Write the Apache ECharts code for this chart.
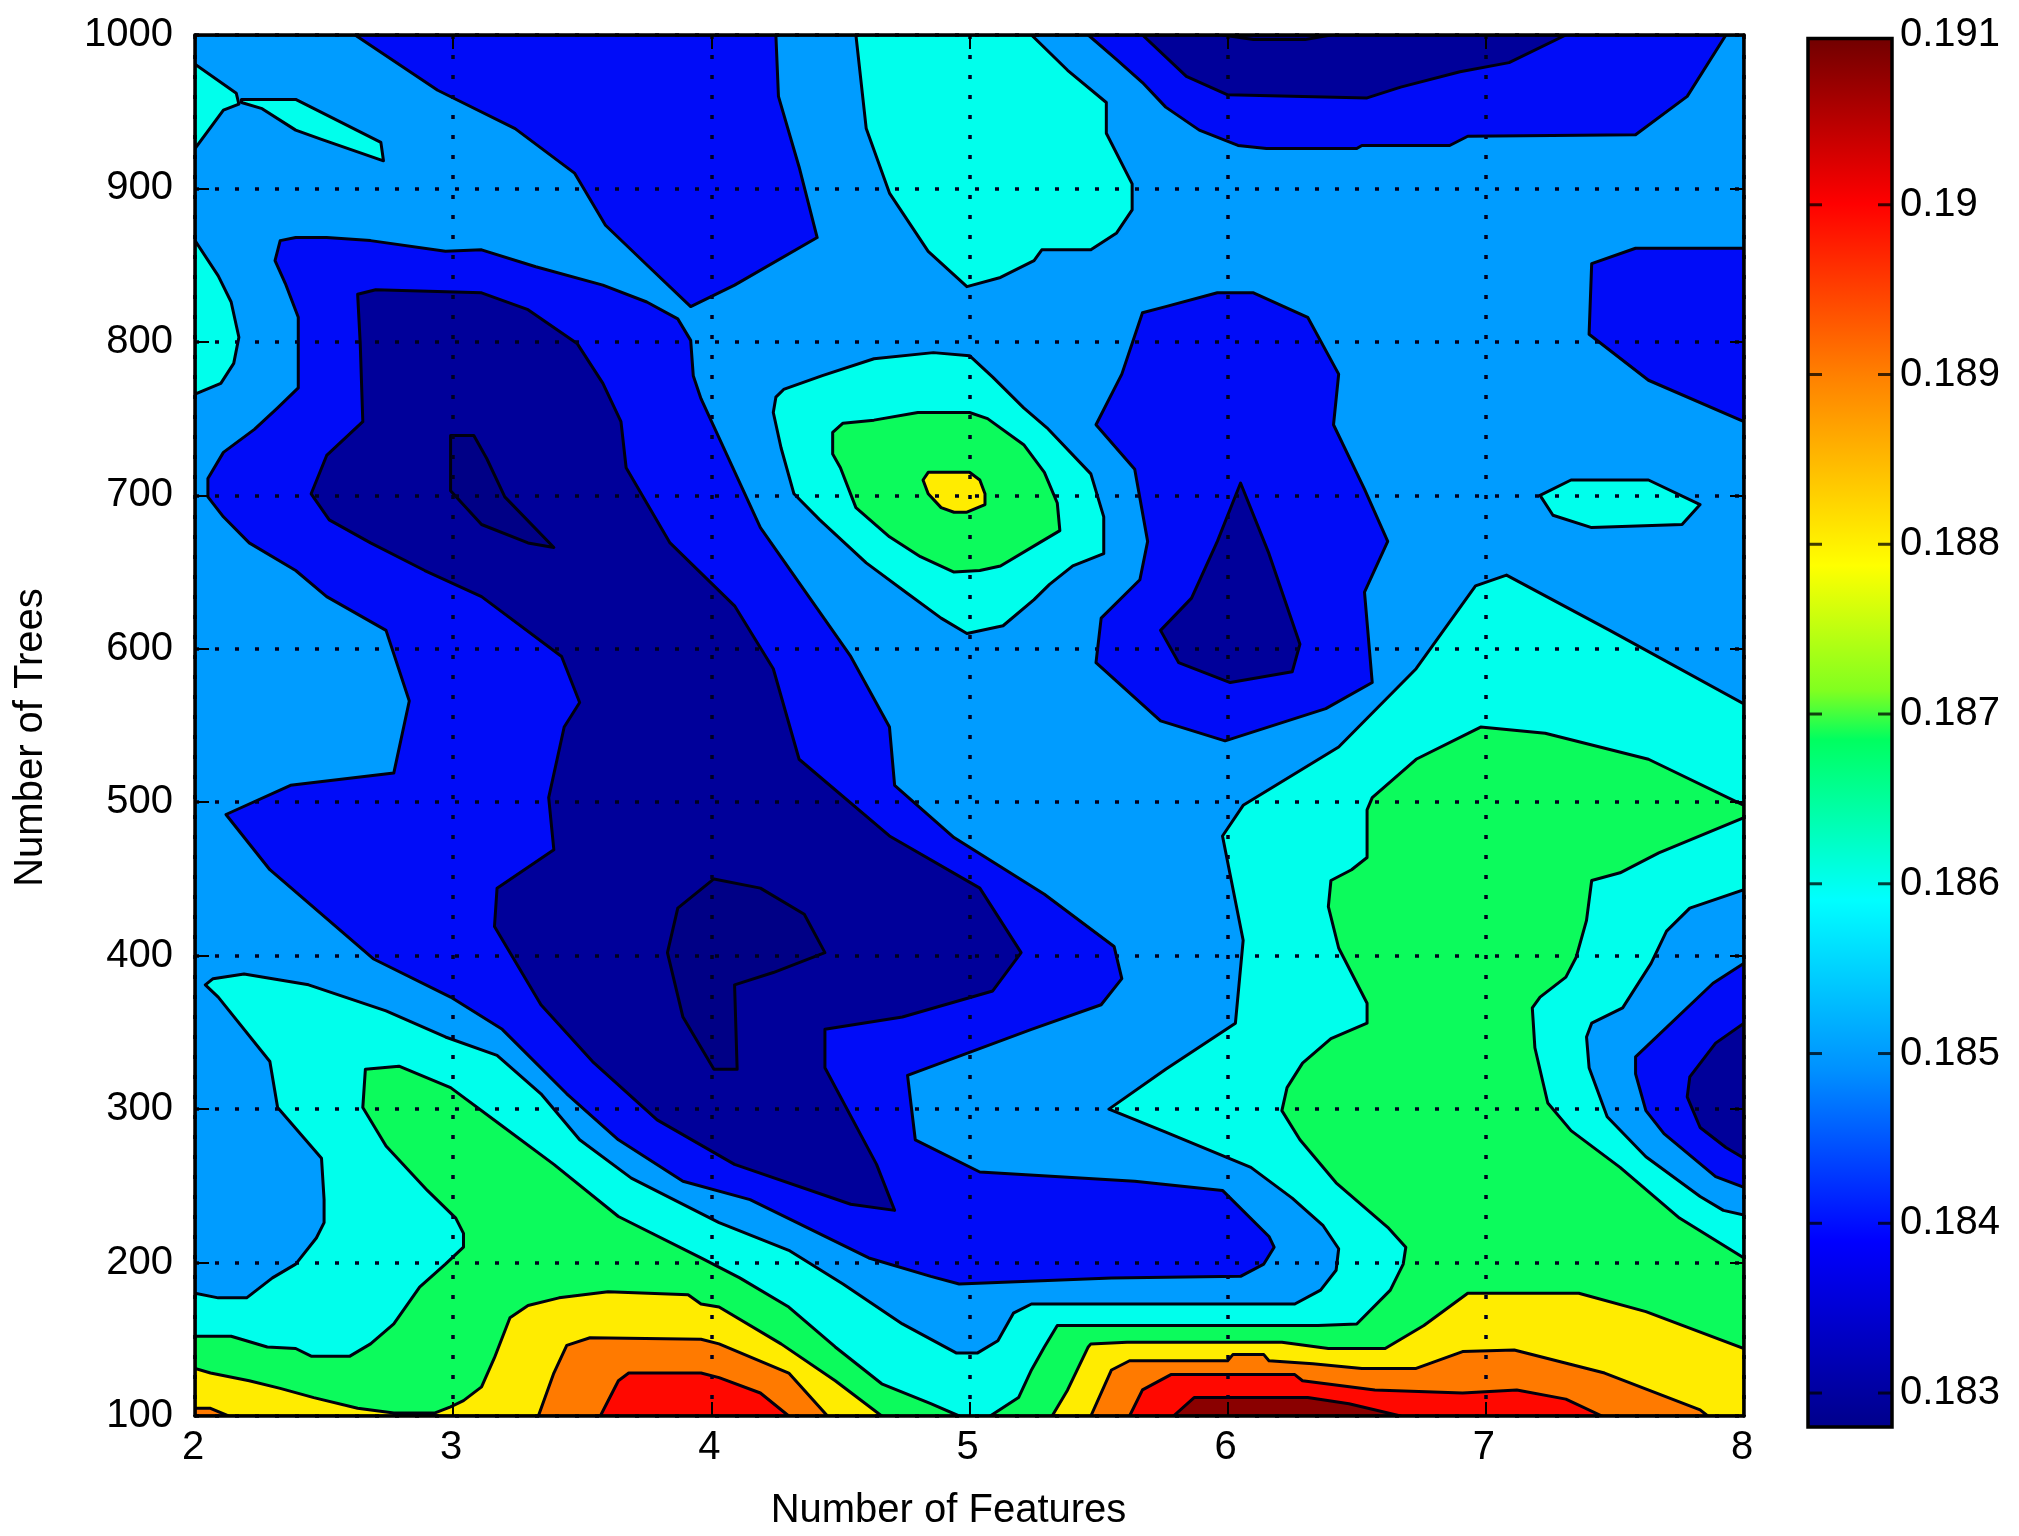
<!DOCTYPE html>
<html>
<head>
<meta charset="utf-8">
<style>html,body{margin:0;padding:0;background:#fff}#c{width:2019px;height:1536px}</style>
<script src="https://cdn.jsdelivr.net/npm/echarts@6/dist/echarts.min.js"></script>
</head>
<body>
<div id="c"></div>
<script>
var xTitle = 'Number of Features';
var yTitle = 'Number of Trees';
var cbTicks = [0.183,0.184,0.185,0.186,0.187,0.188,0.189,0.19,0.191];
var cbRange = [0.1828,0.19098];
// fill colour of each contour band, lowest to highest
var bandColors = {
  darkest:'#000086', navy:'#00009a', blue:'#000cf8', mid:'#009cff', cyan:'#00ffec',
  green:'#0cfb5c', yellow:'#ffec00', orange:'#ff7a00', red:'#ff0800', darkred:'#8a0000'
};
var jetStops = ['#700000','#ff0000','#ff8000','#ffff00','#80ff20','#00ff60','#00ffff','#0090ff','#0000ff','#00008a'];
var jetOffsets = [0,0.12,0.243,0.38,0.47,0.505,0.62,0.743,0.865,1];

// contour outlines as [features, trees]
var midBase = [[2,100],[8,100],[8,1000],[2,1000]];
var blueTop = [[2.62,1000],[2.94,964],[3.24,939],[3.47,910],[3.59,876],[3.77,847],[3.92,823],[4.09,837],[4.41,868],[4.34,914],[4.26,960],[4.25,1000]];
var blueTopRight = [[5.46,1000],[5.57,984],[5.67,969],[5.76,953],[5.89,938],[6.04,928],[6.15,926],[6.50,926],[6.52,928],[6.86,928],[6.93,934],[7.58,935],[7.78,960],[7.93,1000]];
var blueMain = [[2.33,866],[2.39,868],[2.51,868],[2.68,866],[2.97,859],[3.11,860],[3.32,849],[3.58,837],[3.75,826],[3.87,815],[3.92,801],[3.93,778],[3.96,763],[4.19,679],[4.54,595],[4.69,549],[4.71,511],[4.94,477],[5.29,440],[5.56,406],[5.59,385],[5.51,368],[5.24,352],[4.76,322],[4.79,280],[5.04,259],[5.64,253],[5.98,247],[6.16,217],[6.18,210],[6.14,199],[6.05,191],[5.55,190],[4.96,186],[4.85,191],[4.61,203],[4.32,227],[4.15,241],[3.89,253],[3.64,280],[3.44,310],[3.19,352],[2.99,373],[2.69,398],[2.29,456],[2.12,492],[2.37,511],[2.77,519],[2.83,566],[2.74,612],[2.51,634],[2.39,651],[2.21,669],[2.11,686],[2.05,699],[2.05,711],[2.11,728],[2.23,743],[2.32,757],[2.40,770],[2.40,788],[2.40,816],[2.35,838],[2.31,853]];
var blueIsland = [[5.67,819],[5.76,823],[5.96,832],[6.10,832],[6.31,816],[6.43,779],[6.41,746],[6.53,704],[6.62,670],[6.53,637],[6.56,578],[6.38,561],[5.99,540],[5.74,553],[5.49,591],[5.51,620],[5.66,645],[5.69,670],[5.64,717],[5.49,746],[5.59,779]];
var blueRight = [[8,861],[7.58,861],[7.41,851],[7.40,805],[7.63,775],[8,748]];
var navyMain = [[2.63,831],[2.70,834],[3.11,832],[3.29,821],[3.48,799],[3.58,773],[3.65,748],[3.67,718],[3.84,669],[4.09,628],[4.24,587],[4.34,528],[4.69,478],[5.04,444],[5.20,402],[5.09,377],[4.74,360],[4.44,352],[4.44,327],[4.64,264],[4.71,234],[4.54,238],[4.09,264],[3.79,293],[3.54,331],[3.34,368],[3.16,419],[3.17,444],[3.39,469],[3.37,503],[3.43,549],[3.49,565],[3.42,595],[3.11,634],[2.89,651],[2.68,669],[2.52,684],[2.45,701],[2.51,726],[2.65,748],[2.64,799]];
var navyTop = [[5.67,1000],[5.84,973],[6.00,961],[6.54,959],[6.67,966],[6.90,976],[7.09,982],[7.31,1000]];
var navyIsland = [[6.05,708],[6.16,662],[6.28,603],[6.25,585],[6.01,578],[5.81,591],[5.74,612],[5.86,633],[5.96,670]];
var darkestA = [[2.99,739],[3.08,739],[3.13,724],[3.20,699],[3.39,666],[3.29,669],[3.11,681],[2.99,703]];
var darkestB = [[4.01,450],[4.19,444],[4.36,427],[4.44,402],[4.24,389],[4.09,381],[4.10,326],[4.01,326],[3.89,360],[3.83,402],[3.87,431]];
var darkestTop = [[5.98,1000],[6.1,997],[6.3,997],[6.4,1000]];
var cyanCorner = [[2,981],[2.16,962],[2.17,955],[2.11,951],[2,926]];
var cyanSliver = [[2.18,958],[2.39,958],[2.72,930],[2.73,918],[2.49,932],[2.39,938],[2.26,952],[2.18,956]];
var cyanEdge = [[2,866],[2.09,843],[2.14,826],[2.17,803],[2.15,786],[2.10,773],[2,766]];
var cyanTop = [[4.56,1000],[4.6,939],[4.69,897],[4.84,859],[4.99,836],[5.12,842],[5.25,853],[5.28,860],[5.47,860],[5.57,871],[5.63,886],[5.63,903],[5.53,936],[5.53,956],[5.38,977],[5.24,1000]];
var cyanRing = [[4.25,764],[4.28,769],[4.43,778],[4.63,789],[4.86,793],[5.00,791],[5.09,777],[5.21,757],[5.30,744],[5.47,714],[5.52,686],[5.52,662],[5.40,654],[5.31,642],[5.25,632],[5.13,615],[4.99,610],[4.89,620],[4.76,636],[4.60,656],[4.42,684],[4.32,701],[4.27,731],[4.24,754]];
var cyanSmall = [[7.21,700],[7.33,710],[7.63,710],[7.83,694],[7.76,681],[7.41,679],[7.26,687]];
var cyanBottom = [[2,180],[2.09,177],[2.20,177],[2.30,190],[2.39,199],[2.47,216],[2.50,226],[2.50,241],[2.49,268],[2.32,301],[2.29,331],[2.09,373],[2.04,381],[2.07,385],[2.19,388],[2.44,381],[2.74,364],[2.97,347],[3.17,335],[3.34,310],[3.49,280],[3.69,255],[4.03,226],[4.30,208],[4.51,186],[4.74,160],[4.95,141],[5.03,141],[5.11,149],[5.17,167],[5.24,173],[6.26,173],[6.36,182],[6.42,195],[6.43,209],[6.37,224],[6.25,242],[6.09,262],[5.76,285],[5.54,300],[5.76,326],[6.03,356],[6.06,410],[5.98,478],[6.06,498],[6.43,536],[6.73,587],[6.96,641],[7.08,648],[7.48,612],[8,564],[8,100],[2,100]];
var midPocket = [[8,443],[7.79,431],[7.70,416],[7.64,395],[7.53,366],[7.41,356],[7.39,347],[7.40,327],[7.47,295],[7.62,269],[7.83,243],[7.92,234],[8,231]];
var bluePocket = [[8,395],[7.88,382],[7.58,334],[7.58,323],[7.62,299],[7.69,284],[7.89,256],[8,249]];
var navyPocket = [[8,356],[7.89,343],[7.79,321],[7.78,308],[7.83,288],[7.93,275],[8,268]];
var greenPeak = [[4.47,741],[4.51,747],[4.63,749],[4.80,754],[5.00,754],[5.07,750],[5.21,733],[5.29,715],[5.34,695],[5.35,677],[5.27,669],[5.12,654],[5.04,651],[4.94,650],[4.81,660],[4.69,673],[4.56,692],[4.50,718],[4.47,727]];
var greenLeft = [[2,152],[2.14,152],[2.28,145],[2.39,144],[2.45,139],[2.60,139],[2.68,147],[2.77,160],[2.87,184],[2.97,199],[3.04,210],[3.04,219],[3.01,229],[2.90,247],[2.74,276],[2.65,301],[2.66,326],[2.79,328],[2.99,314],[3.19,289],[3.39,264],[3.64,230],[3.96,203],[4.11,190],[4.30,171],[4.48,145],[4.66,121],[4.85,108],[4.96,100],[2,100]];
var greenRight = [[5.08,100],[5.19,112],[5.24,130],[5.29,145],[5.34,159],[6.35,159],[6.50,160],[6.63,182],[6.68,199],[6.69,210],[6.62,223],[6.42,252],[6.28,280],[6.21,299],[6.23,314],[6.29,330],[6.40,346],[6.54,356],[6.54,369],[6.43,405],[6.39,432],[6.40,449],[6.48,456],[6.54,464],[6.54,495],[6.56,503],[6.73,528],[6.98,549],[7.23,545],[7.63,528],[8,498],[8,490],[7.67,467],[7.52,454],[7.41,449],[7.39,423],[7.35,399],[7.31,386],[7.21,373],[7.18,366],[7.19,340],[7.24,304],[7.33,286],[7.52,262],[7.75,229],[8,203],[8,100]];
var yellowPeak = [[4.82,710],[4.84,715],[5.00,715],[5.04,710],[5.06,701],[5.06,694],[4.99,689],[4.94,689],[4.89,692],[4.84,701]];
var yellowLeft = [[2,131],[2.06,128],[2.21,123],[2.33,118],[2.46,112],[2.63,105],[2.77,102],[2.93,102],[2.99,106],[3.04,110],[3.11,119],[3.16,138],[3.22,164],[3.29,172],[3.41,177],[3.60,181],[3.91,179],[3.96,173],[4.03,171],[4.27,147],[4.48,123],[4.66,100],[2,100]];
var yellowRight = [[5.32,100],[5.38,117],[5.46,145],[5.47,147],[5.61,148],[6.21,148],[6.39,144],[6.61,144],[6.76,159],[6.93,180],[7.36,180],[7.62,168],[8,144],[8,100]];
var orangeCorner = [[2,105],[2.06,105],[2.13,100],[2,100]];
var orangeLeft = [[3.33,100],[3.39,128],[3.44,146],[3.53,151],[3.96,150],[4.03,147],[4.30,128],[4.45,100]];
var orangeRight = [[5.47,100],[5.55,130],[5.62,136],[6.00,136],[6.02,140],[6.14,140],[6.16,136],[6.33,134],[6.52,131],[6.73,131],[6.91,142],[7.11,143],[7.46,128],[7.83,104],[7.86,100]];
var redLeft = [[3.57,100],[3.64,123],[3.68,128],[3.96,128],[4.03,125],[4.19,115],[4.30,100]];
var redRight = [[5.62,100],[5.67,117],[5.78,127],[6.26,127],[6.29,123],[6.57,117],[6.91,115],[7.12,117],[7.31,111],[7.45,100]];
var darkredPeak = [[5.79,100],[5.87,112],[6.31,112],[6.47,108],[6.67,100]];

// painting order: each later outline sits on top of the earlier ones
var regions = [
  ['mid',midBase],['blue',blueTop],['blue',blueTopRight],['blue',blueMain],['blue',blueIsland],['blue',blueRight],
  ['navy',navyMain],['navy',navyTop],['navy',navyIsland],['darkest',darkestA],['darkest',darkestB],['darkest',darkestTop],
  ['cyan',cyanCorner],['cyan',cyanSliver],['cyan',cyanEdge],['cyan',cyanTop],['cyan',cyanRing],['cyan',cyanSmall],['cyan',cyanBottom],
  ['mid',midPocket],['blue',bluePocket],['navy',navyPocket],
  ['green',greenPeak],['green',greenLeft],['green',greenRight],
  ['yellow',yellowPeak],['yellow',yellowLeft],['yellow',yellowRight],
  ['orange',orangeCorner],['orange',orangeLeft],['orange',orangeRight],
  ['red',redLeft],['red',redRight],['darkred',darkredPeak]
];

var font = 'Liberation Sans';
var plot = {left:195, top:35, width:1549, height:1381};
var bar = {left:1808, top:35, width:84, height:1392};
var barTickLength = 14;

function contourSeries(r){
  var pts = r[1], fill = bandColors[r[0]];
  return {
    type:'custom', xAxisIndex:0, yAxisIndex:0, data:pts, encode:{x:0,y:1},
    silent:true, animation:false, clip:true, z:2,
    renderItem:function(params, api){
      if(params.dataIndex !== 0) return;
      return {type:'polygon', shape:{points:pts.map(function(p){return api.coord(p);})},
        style:{fill:fill, stroke:'#00000e', lineWidth:3, lineJoin:'round'}};
    }
  };
}
var barSeries = {
  type:'custom', xAxisIndex:2, yAxisIndex:2, data:[[0,cbRange[0],1,cbRange[1]]], encode:{y:[1,3]},
  silent:true, animation:false, z:2,
  renderItem:function(params, api){
    var a = api.coord([0,api.value(1)]), b = api.coord([1,api.value(3)]);
    return {type:'rect', shape:{x:a[0],y:b[1],width:b[0]-a[0],height:a[1]-b[1]},
      style:{stroke:'#000', lineWidth:3.5,
        fill:new echarts.graphic.LinearGradient(0,0,0,1,jetStops.map(function(c,i){return {offset:jetOffsets[i],color:c};}))}};
  }
};
var barTickSeries = {
  type:'custom', xAxisIndex:2, yAxisIndex:2, data:cbTicks.slice(0,-1).map(function(v){return [0,v];}), encode:{y:1},
  silent:true, animation:false, z:3,
  renderItem:function(params, api){
    var a = api.coord([0,api.value(1)]), b = api.coord([1,api.value(1)]);
    var st = {stroke:'rgba(0,0,0,0.75)', lineWidth:3};
    return {type:'group', children:[
      {type:'line', shape:{x1:a[0],y1:a[1],x2:a[0]+barTickLength,y2:a[1]}, style:st},
      {type:'line', shape:{x1:b[0]-barTickLength,y1:b[1],x2:b[0],y2:b[1]}, style:st}
    ]};
  }
};
var boxLine = {show:true, onZero:false, lineStyle:{color:'#000', width:3.5}};
var boxTick = {show:true, inside:true, length:14, lineStyle:{color:'#000', width:2}};
var dots = {show:true, lineStyle:{color:'#00001e', width:3.5, type:[4,16]}};

var option = {
  backgroundColor:'#fff',
  animation:false,
  textStyle:{fontFamily:font, color:'#000'},
  grid:[
    {left:plot.left, top:plot.top, width:plot.width, height:plot.height},
    {left:bar.left, top:bar.top, width:bar.width, height:bar.height}
  ],
  xAxis:[
    {type:'value', gridIndex:0, min:2, max:8, interval:1, position:'bottom', z:10,
     name:xTitle, nameLocation:'middle', nameGap:75,
     nameTextStyle:{fontFamily:font, fontSize:40, color:'#000', padding:[0,42,0,0]},
     axisLine:boxLine, axisTick:boxTick, splitLine:dots,
     axisLabel:{fontFamily:font, fontSize:40, color:'#000', margin:12, padding:[0,4,0,0]}},
    {type:'value', gridIndex:0, min:2, max:8, interval:1, position:'top', z:10,
     axisLine:boxLine, axisTick:boxTick, splitLine:{show:false}, axisLabel:{show:false}},
    {type:'value', gridIndex:1, min:0, max:1, show:false}
  ],
  yAxis:[
    {type:'value', gridIndex:0, min:100, max:1000, interval:100, position:'left', z:10,
     name:yTitle, nameLocation:'middle', nameGap:144, nameRotate:90,
     nameTextStyle:{fontFamily:font, fontSize:40, color:'#000', padding:[0,24,0,0]},
     axisLine:boxLine, axisTick:boxTick, splitLine:dots,
     axisLabel:{fontFamily:font, fontSize:40, color:'#000', margin:22, padding:[0,0,10,0],
       formatter:function(v){return String(v);}}},
    {type:'value', gridIndex:0, min:100, max:1000, interval:100, position:'right', z:10,
     axisLine:boxLine, axisTick:boxTick, splitLine:{show:false}, axisLabel:{show:false}},
    {type:'value', gridIndex:1, min:cbRange[0], max:0.191, position:'right', z:10,
     axisLine:{show:false}, axisTick:{show:false}, splitLine:{show:false},
     axisLabel:{fontFamily:font, fontSize:40, color:'#000', margin:8, padding:[0,0,10,0],
       customValues:cbTicks, formatter:function(v){return String(parseFloat(v.toFixed(3)));}}}
  ],
  series:regions.map(contourSeries).concat([barSeries, barTickSeries])
};
var chart = echarts.init(document.getElementById('c'), null, {renderer:'canvas'});
chart.setOption(option);
</script>
</body>
</html>
